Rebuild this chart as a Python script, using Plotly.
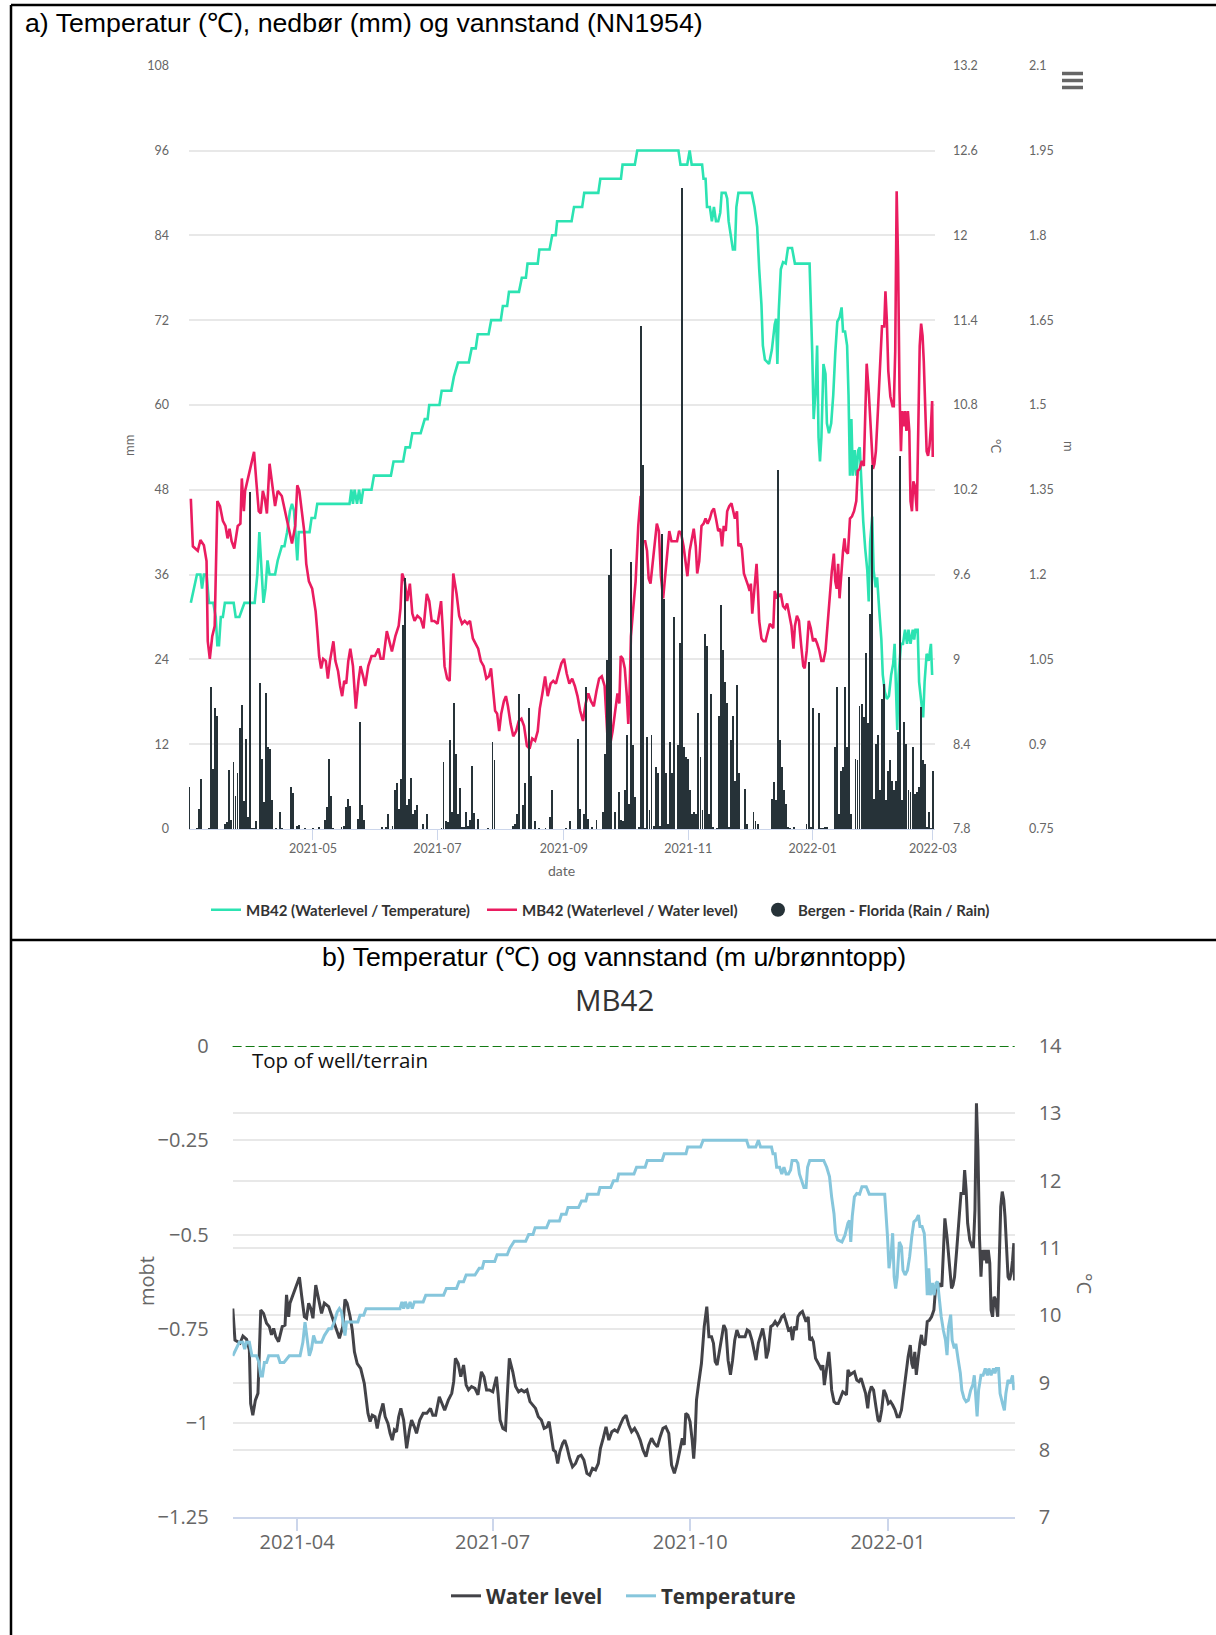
import pandas as pd
import plotly.graph_objects as go

W, H = 1216, 1635

# ---------------------------------------------------------------- data
ORIGIN = "2021-03-01"      # day 0 of the record (x values below are days since this date)
WELL_TOP_NN1954 = 2.03     # top of well MB42, metres above NN1954

# Water level MB42, metres below top of well
WL_DAY = [1.1, 2.1, 4.5, 5.8, 7.5, 8.8, 9.4, 10.4, 11.6, 12.8, 14.1, 15.4, 16.8, 18.1, 19.1, 20.1, 21.1,
          22.4, 24.1, 25.4, 26.1, 27.1, 27.7, 29.9, 32.1, 33.2, 34.4, 35.4, 36.4, 37.4, 38.4, 39.7, 41.0,
          42.4, 43.7, 45.7, 47.3, 49.3, 50.7, 52.3, 53.3, 54.3, 55.7, 56.7, 57.7, 59.0, 60.6, 62.3, 63.1,
          64.0, 65.0, 66.0, 67.3, 68.3, 69.3, 70.3, 71.0, 72.0, 73.3, 74.3, 75.3, 76.3, 77.3, 78.3, 79.3,
          80.6, 82.0, 83.3, 84.3, 85.6, 86.6, 88.1, 89.7, 91.4, 93.1, 94.2, 95.5, 97.2, 98.5, 99.7, 101.4,
          103.0, 103.9, 104.7, 106.0, 107.2, 108.5, 109.7, 110.8, 112.2, 113.8, 115.2, 116.8, 118.0,
          119.2, 120.5, 122.1, 123.8, 124.6, 125.5, 126.8, 128.0, 128.8, 129.8, 131.4, 132.7, 134.1,
          135.4, 136.7, 138.0, 139.4, 140.7, 142.0, 143.3, 144.7, 146.0, 147.3, 148.3, 149.3, 150.3,
          151.3, 152.3, 153.3, 154.6, 155.6, 156.6, 157.9, 159.2, 160.6, 161.9, 163.2, 164.5, 165.9,
          167.2, 168.5, 169.9, 171.2, 172.2, 173.5, 174.8, 176.1, 177.5, 178.8, 180.1, 181.4, 182.8,
          184.1, 185.4, 186.7, 188.1, 189.4, 190.7, 192.0, 193.4, 194.7, 196.0, 197.3, 198.7, 200.0,
          201.3, 202.6, 204.0, 205.3, 206.6, 207.9, 209.3, 210.3, 211.2, 211.9, 212.9, 213.9, 214.9,
          215.6, 216.2, 216.9, 217.9, 219.2, 220.5, 221.7, 222.7, 223.9, 224.8, 225.6, 226.5, 227.4,
          228.6, 229.6, 230.6, 231.6, 232.7, 233.7, 234.7, 235.7, 236.8, 238.1, 239.5, 240.5, 241.5,
          242.7, 243.6, 244.6, 245.7, 246.7, 247.7, 248.7, 249.4, 250.4, 251.5, 252.5, 253.5, 254.5,
          255.6, 256.6, 257.6, 258.6, 259.7, 260.7, 261.6, 262.4, 263.4, 264.1, 265.1, 266.2, 266.9,
          267.9, 268.9, 269.6, 270.6, 271.3, 272.3, 273.3, 274.4, 275.1, 275.7, 276.4, 277.5, 278.5,
          279.2, 279.8, 280.9, 281.9, 282.9, 283.9, 285.0, 286.0, 286.7, 287.4, 288.4, 289.4, 290.4,
          291.5, 292.5, 293.5, 294.5, 295.6, 296.6, 297.3, 298.3, 299.3, 300.4, 301.4, 302.1, 303.1,
          304.1, 305.1, 306.2, 307.2, 308.2, 309.3, 310.3, 311.3, 312.3, 313.4, 314.4, 315.4, 316.4,
          317.1, 317.8, 318.5, 319.2, 319.9, 320.9, 321.6, 322.2, 323.3, 324.3, 325.3, 326.3, 327.4,
          328.1, 329.1, 330.1, 331.1, 331.8, 332.5, 333.5, 334.2, 334.9, 335.6, 336.3, 337.0, 338.0,
          339.0, 340.0, 341.1, 341.7, 342.4, 343.1, 344.1, 345.2, 345.8, 346.5, 347.2, 347.9, 348.6,
          349.3, 349.9, 350.6, 351.3, 352.0, 352.7, 353.4, 354.0, 354.7, 355.4, 356.1, 357.1, 357.8,
          358.5, 359.2, 359.9, 360.5, 361.2, 361.9, 362.6, 363.3, 364.0, 364.6, 364.9]
WL_MOBT = [-0.696, -0.780, -0.788, -0.769, -0.778, -0.806, -0.948, -0.979, -0.939, -0.921, -0.700, -0.709,
           -0.735, -0.744, -0.766, -0.749, -0.771, -0.784, -0.744, -0.740, -0.660, -0.718, -0.682, -0.647,
           -0.613, -0.665, -0.718, -0.722, -0.682, -0.696, -0.722, -0.634, -0.669, -0.709, -0.682, -0.691,
           -0.718, -0.753, -0.775, -0.744, -0.672, -0.682, -0.718, -0.753, -0.811, -0.842, -0.855, -0.895,
           -0.930, -0.974, -0.996, -0.979, -0.983, -1.014, -0.983, -0.961, -0.948, -0.983, -1.001, -1.027,
           -1.045, -1.018, -1.023, -0.983, -0.961, -0.992, -1.067, -1.018, -0.992, -1.010, -1.027, -0.992,
           -0.974, -0.974, -0.961, -0.979, -0.979, -0.930, -0.948, -0.966, -0.939, -0.921, -0.890, -0.828,
           -0.842, -0.877, -0.846, -0.899, -0.912, -0.903, -0.908, -0.925, -0.864, -0.877, -0.912, -0.912,
           -0.917, -0.877, -0.925, -0.992, -1.014, -1.018, -0.930, -0.828, -0.864, -0.903, -0.917, -0.912,
           -0.917, -0.912, -0.943, -0.952, -0.961, -0.983, -0.992, -1.014, -1.010, -0.996, -1.036, -1.071,
           -1.076, -1.107, -1.076, -1.054, -1.045, -1.063, -1.094, -1.116, -1.107, -1.089, -1.085, -1.098,
           -1.133, -1.138, -1.120, -1.124, -1.107, -1.067, -1.040, -1.010, -1.045, -1.023, -1.018, -1.023,
           -1.005, -0.987, -0.979, -1.005, -1.023, -1.014, -1.027, -1.045, -1.071, -1.089, -1.058, -1.040,
           -1.054, -1.063, -1.036, -1.014, -1.010, -1.027, -1.111, -1.133, -1.107, -1.063, -1.040, -1.058,
           -0.974, -0.979, -0.996, -1.045, -1.094, -1.045, -0.939, -0.895, -0.842, -0.744, -0.691, -0.771,
           -0.771, -0.788, -0.837, -0.846, -0.815, -0.771, -0.740, -0.753, -0.833, -0.872, -0.833, -0.780,
           -0.753, -0.771, -0.771, -0.771, -0.753, -0.757, -0.780, -0.806, -0.833, -0.788, -0.771, -0.749,
           -0.780, -0.828, -0.806, -0.744, -0.740, -0.731, -0.740, -0.731, -0.718, -0.713, -0.731, -0.753,
           -0.749, -0.780, -0.744, -0.753, -0.718, -0.709, -0.704, -0.718, -0.731, -0.718, -0.780, -0.775,
           -0.784, -0.828, -0.837, -0.850, -0.859, -0.846, -0.899, -0.859, -0.811, -0.859, -0.912, -0.943,
           -0.948, -0.948, -0.934, -0.917, -0.921, -0.925, -0.859, -0.872, -0.868, -0.864, -0.886, -0.890,
           -0.881, -0.899, -0.921, -0.961, -0.921, -0.903, -0.912, -0.956, -0.992, -0.996, -0.965, -0.912,
           -0.925, -0.948, -0.943, -0.952, -0.965, -0.983, -0.983, -0.965, -0.912, -0.859, -0.824, -0.793,
           -0.842, -0.855, -0.811, -0.872, -0.833, -0.788, -0.766, -0.788, -0.793, -0.731, -0.727, -0.718,
           -0.700, -0.647, -0.643, -0.629, -0.638, -0.541, -0.457, -0.506, -0.559, -0.612, -0.643, -0.634,
           -0.612, -0.541, -0.453, -0.391, -0.391, -0.329, -0.382, -0.470, -0.515, -0.532, -0.532, -0.435,
           -0.152, -0.276, -0.506, -0.612, -0.541, -0.568, -0.541, -0.576, -0.541, -0.576, -0.700, -0.718,
           -0.665, -0.673, -0.718, -0.585, -0.426, -0.386, -0.408, -0.453, -0.550, -0.612, -0.620, -0.603,
           -0.568, -0.523, -0.622]

# Groundwater temperature MB42, degrees C
TEMP_DAY = [1.1, 2.5, 4.1, 5.8, 6.6, 7.5, 8.8, 10.0, 12.1, 13.3, 14.1, 14.9, 15.8, 16.8, 17.8, 22.1, 23.1,
            24.9, 26.6, 27.4, 32.4, 33.7, 34.7, 35.7, 36.7, 37.7, 38.7, 39.7, 42.4, 43.7, 45.7, 47.0, 48.3,
            49.7, 50.7, 51.7, 52.7, 53.3, 54.0, 59.3, 60.3, 62.0, 63.1, 78.9, 79.8, 80.6, 81.4, 82.6, 83.6,
            84.6, 85.6, 89.7, 90.9, 99.2, 100.5, 105.2, 106.4, 108.5, 109.7, 113.8, 115.8, 117.2, 118.0,
            123.0, 124.1, 128.8, 130.1, 132.1, 137.4, 138.8, 140.8, 141.8, 147.1, 148.4, 153.1, 154.1,
            156.2, 157.1, 162.0, 163.4, 165.4, 166.2, 171.2, 172.0, 177.0, 178.3, 180.0, 180.7, 187.8,
            189.0, 193.0, 194.0, 200.9, 201.9, 212.0, 212.8, 218.8, 220.0, 240.2, 241.2, 244.5, 245.7,
            246.7, 251.8, 252.5, 253.5, 254.2, 255.6, 256.6, 257.6, 258.6, 259.7, 260.7, 261.4, 263.3,
            264.1, 264.8, 265.8, 266.9, 267.9, 268.6, 269.6, 276.1, 277.5, 278.8, 279.8, 280.9, 281.6,
            282.6, 284.6, 286.0, 287.4, 288.1, 288.7, 289.4, 290.4, 291.5, 292.8, 293.9, 295.9, 297.3,
            304.5, 305.1, 305.8, 306.5, 307.5, 308.2, 308.9, 309.6, 310.3, 311.3, 312.3, 313.0, 314.0,
            315.1, 316.1, 317.1, 318.1, 319.2, 320.2, 320.9, 321.9, 322.9, 323.6, 324.3, 325.0, 325.7,
            326.7, 327.4, 328.4, 329.1, 330.1, 330.8, 331.8, 332.8, 333.5, 334.2, 335.2, 335.9, 336.9,
            337.6, 338.7, 339.7, 340.4, 341.4, 342.4, 343.4, 344.5, 345.5, 346.2, 346.9, 347.5, 348.2,
            349.3, 350.3, 351.3, 352.3, 353.0, 354.0, 355.1, 355.8, 356.4, 357.5, 358.2, 359.5, 360.2,
            360.9, 361.9, 362.9, 364.0, 364.6]
TEMP_C = [9.4, 9.5, 9.6, 9.6, 9.5, 9.6, 9.6, 9.4, 9.4, 9.3, 9.1, 9.1, 9.3, 9.3, 9.4, 9.4, 9.3,
          9.3, 9.36, 9.4, 9.4, 9.6, 9.9, 9.6, 9.4, 9.5, 9.7, 9.6, 9.6, 9.7, 9.8, 9.8, 9.9,
          10.05, 10.1, 10.05, 9.8, 9.7, 9.9, 9.9, 10.0, 10.0, 10.1, 10.1, 10.2, 10.1, 10.2, 10.1, 10.2,
          10.1, 10.2, 10.2, 10.3, 10.3, 10.4, 10.4, 10.5, 10.5, 10.6, 10.6, 10.7, 10.7, 10.8,
          10.8, 10.9, 10.9, 11.0, 11.1, 11.1, 11.2, 11.2, 11.3, 11.3, 11.4, 11.4, 11.5,
          11.5, 11.6, 11.6, 11.7, 11.7, 11.8, 11.8, 11.9, 11.9, 12.0, 12.0, 12.1, 12.1,
          12.2, 12.2, 12.3, 12.3, 12.4, 12.4, 12.5, 12.5, 12.6, 12.6, 12.5, 12.5, 12.6,
          12.5, 12.5, 12.4, 12.4, 12.2, 12.2, 12.1, 12.2, 12.1, 12.1, 12.16, 12.3, 12.3,
          12.26, 12.1, 12.0, 11.9, 11.9, 12.2, 12.3, 12.3, 12.2, 12.06, 11.76, 11.51, 11.22,
          11.12, 11.09, 11.19, 11.37, 11.41, 11.09, 11.47, 11.76, 11.81, 11.8, 11.91, 11.91, 11.8,
          11.8, 11.56, 11.17, 10.7, 10.92, 11.22, 10.57, 10.4, 10.57, 11.09, 11.02, 10.67, 10.6,
          10.67, 10.87, 11.17, 11.39, 11.42, 11.49, 11.32, 11.32, 11.22, 10.87, 10.3, 10.7, 10.3,
          10.48, 10.3, 10.48, 10.5, 10.18, 9.98, 9.78, 9.63, 9.41, 9.83, 10.01, 9.63, 9.51,
          9.58, 9.34, 9.14, 8.89, 8.77, 8.72, 8.74, 8.89, 8.97, 9.11, 8.67, 8.5, 8.89,
          9.11, 9.11, 9.21, 9.11, 9.21, 9.11, 9.21, 9.14, 9.21, 9.21, 8.84, 8.67, 8.59,
          8.84, 9.04, 8.99, 9.11, 8.89]

# Daily precipitation, Bergen - Florida, mm
RAIN_DAY = [0, 4, 5, 6, 10, 11, 12, 13, 14, 18, 19, 20, 21, 22, 23, 24, 25, 26, 27, 28, 29, 30, 31, 32, 33,
            35, 36, 37, 38, 39, 40, 41, 43, 45, 46, 50, 51, 53, 54, 57, 61, 64, 67, 68, 69, 70, 71, 75, 76,
            77, 78, 79, 83, 84, 85, 86, 95, 97, 98, 100, 101, 102, 103, 104, 105, 106, 107, 108, 109, 110,
            111, 112, 115, 117, 124, 125, 126, 127, 128, 129, 130, 131, 132, 133, 134, 135, 136, 137, 138,
            139, 140, 142, 147, 149, 150, 159, 160, 161, 162, 164, 165, 167, 168, 170, 172, 175, 177, 178,
            185, 187, 191, 192, 194, 195, 196, 198, 200, 203, 204, 205, 206, 207, 209, 211, 212, 213, 214,
            215, 216, 217, 218, 219, 221, 222, 223, 224, 225, 226, 227, 228, 229, 230, 231, 232, 233, 234,
            235, 236, 237, 238, 240, 241, 242, 243, 244, 245, 246, 247, 248, 249, 250, 251, 252, 253, 254,
            255, 256, 257, 259, 260, 261, 262, 263, 264, 265, 266, 267, 268, 269, 270, 273, 274, 277, 278,
            279, 286, 287, 288, 289, 290, 291, 292, 293, 294, 295, 297, 303, 304, 305, 306, 309, 310, 311,
            312, 313, 317, 318, 319, 320, 321, 322, 323, 324, 325, 327, 328, 329, 330, 331, 332, 333, 334,
            335, 336, 337, 338, 339, 340, 341, 342, 343, 344, 345, 346, 347, 348, 349, 350, 351, 352, 353,
            354, 355, 356, 357, 358, 359, 360, 361, 362, 363, 364, 365]
RAIN_MM = [6.0, 0.2, 2.9, 7.1, 0.2, 20.1, 8.6, 17.2, 16.1, 0.8, 1.0, 8.4, 1.3, 9.5, 4.7, 8.0, 14.4, 17.6,
           4.0, 12.8, 1.7, 47.7, 0.2, 0.2, 1.2, 20.7, 10.0, 3.9, 19.3, 11.6, 11.4, 4.2, 0.2, 2.4, 0.2, 6.0,
           5.1, 0.5, 0.6, 0.2, 0.2, 0.3, 1.3, 3.1, 10.0, 4.7, 0.2, 0.3, 0.4, 3.2, 4.3, 3.3, 1.5, 15.2, 3.4,
           1.3, 0.3, 0.3, 2.1, 0.5, 5.6, 6.5, 2.9, 7.1, 28.9, 35.5, 3.4, 4.3, 7.3, 2.2, 2.7, 3.4, 0.8, 2.2,
           0.2, 9.5, 1.2, 1.0, 12.7, 2.4, 17.9, 10.6, 2.2, 5.8, 0.3, 0.3, 2.4, 0.5, 1.3, 9.0, 2.3, 1.4, 0.2,
           12.3, 9.8, 0.5, 0.8, 2.1, 19.2, 3.4, 6.5, 17.2, 7.6, 1.2, 0.2, 0.2, 1.7, 5.5, 0.2, 1.2, 12.8,
           2.9, 2.2, 20.1, 1.4, 0.3, 1.3, 2.45, 10.6, 23.9, 36.0, 39.7, 2.45, 5.3, 1.3, 1.2, 5.5, 13.3, 3.6,
           37.8, 11.9, 4.6, 0.3, 71.2, 51.5, 0.2, 13.1, 2.7, 13.3, 0.4, 8.8, 7.9, 0.4, 41.8, 32.6, 7.9, 0.8,
           12.4, 8.0, 30.0, 11.9, 26.3, 90.8, 11.7, 10.3, 10.0, 5.5, 2.2, 2.45, 2.2, 16.4, 10.3, 2.7, 27.7,
           26.0, 2.2, 19.2, 0.3, 0.2, 16.1, 31.7, 25.3, 20.8, 17.9, 0.3, 12.6, 16.1, 6.9, 20.4, 8.0, 5.75,
           0.8, 2.45, 1.2, 0.8, 4.3, 6.7, 4.1, 50.8, 12.6, 8.8, 5.5, 3.6, 0.3, 0.2, 0.3, 0.8, 23.7, 0.3,
           17.1, 16.4, 0.2, 0.2, 0.3, 0.3, 11.6, 20.1, 2.2, 8.3, 8.8, 20.1, 11.6, 35.7, 2.2, 10.0, 9.8,
           17.5, 17.8, 15.9, 24.9, 15.0, 30.5, 51.5, 4.3, 12.1, 13.3, 5.5, 18.5, 20.6, 4.1, 8.3, 9.8, 6.9,
           5.5, 6.9, 13.8, 52.8, 4.1, 15.2, 12.1, 5.5, 5.3, 11.6, 5.0, 5.3, 6.0, 17.3, 9.8, 9.3, 0.3, 2.45,
           0.2, 8.3]

TOP_X_TICKS = ["2021-05", "2021-07", "2021-09", "2021-11", "2022-01", "2022-03"]
BOTTOM_X_TICKS = ["2021-04", "2021-07", "2021-10", "2022-01"]

# ---------------------------------------------------------------- helpers
origin = pd.Timestamp(ORIGIN)


def days_to_dates(days):
    return origin + pd.to_timedelta(days, unit="D")


def px(x):
    return x / W


def py(y):
    return 1 - y / H


wl_dates = days_to_dates(WL_DAY)
temp_dates = days_to_dates(TEMP_DAY)
rain_dates = days_to_dates(RAIN_DAY)
wl_nn1954 = [v + WELL_TOP_NN1954 for v in WL_MOBT]

GREEN = "#2ce3b2"
PINK = "#ea1c60"
RAIN = "#263238"
DARK = "#434348"
BLUE = "#86c6dc"
GRID = "#e8e8e8"
AXIS = "#ccd6eb"
TICKF = "#666666"

TOP_FONT = "Lato"
BOT_FONT = "Open Sans"
HEAD_FONT = "Liberation Sans"

fig = go.Figure()

# ---------------------------------------------------------------- panel a
fig.add_trace(go.Scatter(x=temp_dates, y=TEMP_C, mode="lines", name="MB42 (Waterlevel / Temperature)",
                         line=dict(color=GREEN, width=2.6), xaxis="x", yaxis="y", legend="legend"))
fig.add_trace(go.Scatter(x=wl_dates, y=wl_nn1954, mode="lines", name="MB42 (Waterlevel / Water level)",
                         line=dict(color=PINK, width=2.6), xaxis="x", yaxis="y2", legend="legend"))
fig.add_trace(go.Bar(x=rain_dates, y=RAIN_MM, name="Bergen - Florida (Rain / Rain)",
                     marker=dict(color=RAIN, line=dict(width=0)), width=0.45 * 86400000,
                     xaxis="x", yaxis="y3", showlegend=False))
fig.add_trace(go.Scatter(x=[None], y=[None], mode="markers", name="Bergen - Florida (Rain / Rain)",
                         marker=dict(color=RAIN, size=14), xaxis="x", yaxis="y3", legend="legend"))

# ---------------------------------------------------------------- panel b
fig.add_trace(go.Scatter(x=wl_dates, y=WL_MOBT, mode="lines", name="Water level",
                         line=dict(color=DARK, width=3), xaxis="x2", yaxis="y4", legend="legend2"))
fig.add_trace(go.Scatter(x=temp_dates, y=TEMP_C, mode="lines", name="Temperature",
                         line=dict(color=BLUE, width=3), xaxis="x2", yaxis="y5", legend="legend2"))

top_dom_x = [px(189), px(935)]
top_dom_y = [py(829), py(65.7)]
bot_dom_x = [px(232.6), px(1014.7)]
bot_dom_y = [py(1517.4), py(1046)]

tick_top = dict(family=TOP_FONT, size=12.5, color=TICKF)
tick_bot = dict(family=BOT_FONT, size=20, color=TICKF)

fig.update_layout(
    width=W, height=H, margin=dict(l=0, r=0, t=0, b=0, pad=0, autoexpand=False),
    paper_bgcolor="white", plot_bgcolor="white",
    bargap=0, showlegend=True,
    xaxis=dict(domain=top_dom_x, anchor="y", type="date",
               range=[days_to_dates([0.2])[0], days_to_dates([366.0])[0]],
               tickvals=[pd.Timestamp(t + "-01") for t in TOP_X_TICKS], ticktext=TOP_X_TICKS,
               ticks="outside", ticklen=10, tickcolor=AXIS, tickwidth=1,
               showline=True, linecolor=AXIS, linewidth=1, showgrid=False, zeroline=False,
               tickfont=tick_top, ticklabelstandoff=-2, automargin=False),
    yaxis=dict(domain=top_dom_y, anchor="x", side="right", range=[7.8, 13.2], tick0=7.8, dtick=0.6,
               showgrid=False, zeroline=False, showline=False, tickfont=tick_top, ticklabelstandoff=17,
               automargin=False),
    yaxis2=dict(overlaying="y", side="right", anchor="free", position=px(1027),
                range=[0.75, 2.1], tick0=0.75, dtick=0.15, automargin=False,
                showgrid=False, zeroline=False, showline=False, tickfont=tick_top, ticklabelstandoff=1),
    yaxis3=dict(overlaying="y", side="left", anchor="x", range=[0, 108], tick0=0, dtick=12,
                showgrid=True, gridcolor=GRID, gridwidth=2, zeroline=False, showline=False,
                tickfont=tick_top, ticklabelstandoff=19, automargin=False),
    xaxis2=dict(domain=bot_dom_x, anchor="y4", type="date",
                range=[days_to_dates([1.0])[0], days_to_dates([365.0])[0]],
                tickvals=[pd.Timestamp(t + "-01") for t in BOTTOM_X_TICKS], ticktext=BOTTOM_X_TICKS,
                ticks="outside", ticklen=12, tickcolor=AXIS, tickwidth=1.5,
                showline=True, linecolor=AXIS, linewidth=2, showgrid=False, zeroline=False,
                tickfont=tick_bot, ticklabelstandoff=-6, automargin=False),
    yaxis4=dict(domain=bot_dom_y, anchor="x2", range=[-1.25, 0], tick0=0, dtick=0.25,
                showgrid=True, gridcolor=GRID, gridwidth=2, zeroline=False, showline=False,
                tickfont=tick_bot, ticklabelstandoff=23, automargin=False),
    yaxis5=dict(overlaying="y4", side="right", anchor="x2", range=[7, 14], tick0=7, dtick=1,
                showgrid=True, gridcolor=GRID, gridwidth=2, zeroline=False, showline=False,
                tickfont=tick_bot, ticklabelstandoff=23, automargin=False),
    legend=dict(orientation="h", x=px(620), xanchor="center", y=py(910), yanchor="middle",
                font=dict(family=TOP_FONT, size=15, color="#333333", weight=700),
                bgcolor="rgba(0,0,0,0)", itemwidth=30, tracegroupgap=0,
                entrywidth=231, entrywidthmode="pixels"),
    legend2=dict(orientation="h", x=px(621), xanchor="center", y=py(1596), yanchor="middle",
                 font=dict(family=BOT_FONT, size=20.5, color="#333333", weight=700),
                 bgcolor="rgba(0,0,0,0)", itemwidth=30, entrywidth=130, entrywidthmode="pixels"),
)

# ---------------------------------------------------------------- frame, reference line, menu icon
shapes = [
    dict(type="line", xref="paper", yref="paper", x0=px(11), x1=1, y0=py(5), y1=py(5),
         line=dict(color="black", width=2.5)),
    dict(type="line", xref="paper", yref="paper", x0=px(11), x1=px(11), y0=py(5), y1=0,
         line=dict(color="black", width=2.5)),
    dict(type="line", xref="paper", yref="paper", x0=px(11), x1=1, y0=py(940), y1=py(940),
         line=dict(color="black", width=2.5)),
    dict(type="line", xref="x2 domain", yref="y4", x0=0, x1=1, y0=0, y1=0,
         line=dict(color="#137a13", width=2.2, dash="9px,4px")),
]
for yy in (73.5, 80.5, 87.5):
    shapes.append(dict(type="line", xref="paper", yref="paper", x0=px(1062), x1=px(1083),
                       y0=py(yy), y1=py(yy), line=dict(color="#666666", width=3.5)))
fig.update_layout(shapes=shapes)

# ---------------------------------------------------------------- headings and axis titles
ann = [
    dict(text="a) Temperatur (℃), nedbør (mm) og vannstand (NN1954)", x=px(23), y=py(23),
         xanchor="left", yanchor="middle", font=dict(family=HEAD_FONT, size=26.7, color="black")),
    dict(text="b) Temperatur (℃) og vannstand (m u/brønntopp)", x=px(614), y=py(957),
         xanchor="center", yanchor="middle", font=dict(family=HEAD_FONT, size=26.7, color="black")),
    dict(text="MB42", x=px(614), y=py(1000), xanchor="center", yanchor="middle",
         font=dict(family=BOT_FONT, size=29.5, color="#333333")),
    dict(text="mm", x=px(129), y=py(446), textangle=-90, xanchor="center", yanchor="middle",
         font=dict(family=TOP_FONT, size=13, color=TICKF)),
    dict(text="°C", x=px(996), y=py(446), textangle=90, xanchor="center", yanchor="middle",
         font=dict(family=TOP_FONT, size=13, color=TICKF)),
    dict(text="m", x=px(1069), y=py(446), textangle=90, xanchor="center", yanchor="middle",
         font=dict(family=TOP_FONT, size=13, color=TICKF)),
    dict(text="date", x=px(561), y=py(870), xanchor="center", yanchor="middle",
         font=dict(family=TOP_FONT, size=14, color=TICKF)),
    dict(text="mobt", x=px(146), y=py(1281), textangle=-90, xanchor="center", yanchor="middle",
         font=dict(family=BOT_FONT, size=20, color=TICKF)),
    dict(text="°C", x=px(1085), y=py(1283), textangle=90, xanchor="center", yanchor="middle",
         font=dict(family=BOT_FONT, size=20, color=TICKF)),
    dict(text="Top of well/terrain", x=px(250), y=py(1060), xanchor="left", yanchor="middle",
         font=dict(family=BOT_FONT, size=20.5, color="#111111")),
]
for a in ann:
    a.update(xref="paper", yref="paper", showarrow=False)
fig.update_layout(annotations=ann)

fig.write_html("out.html")
